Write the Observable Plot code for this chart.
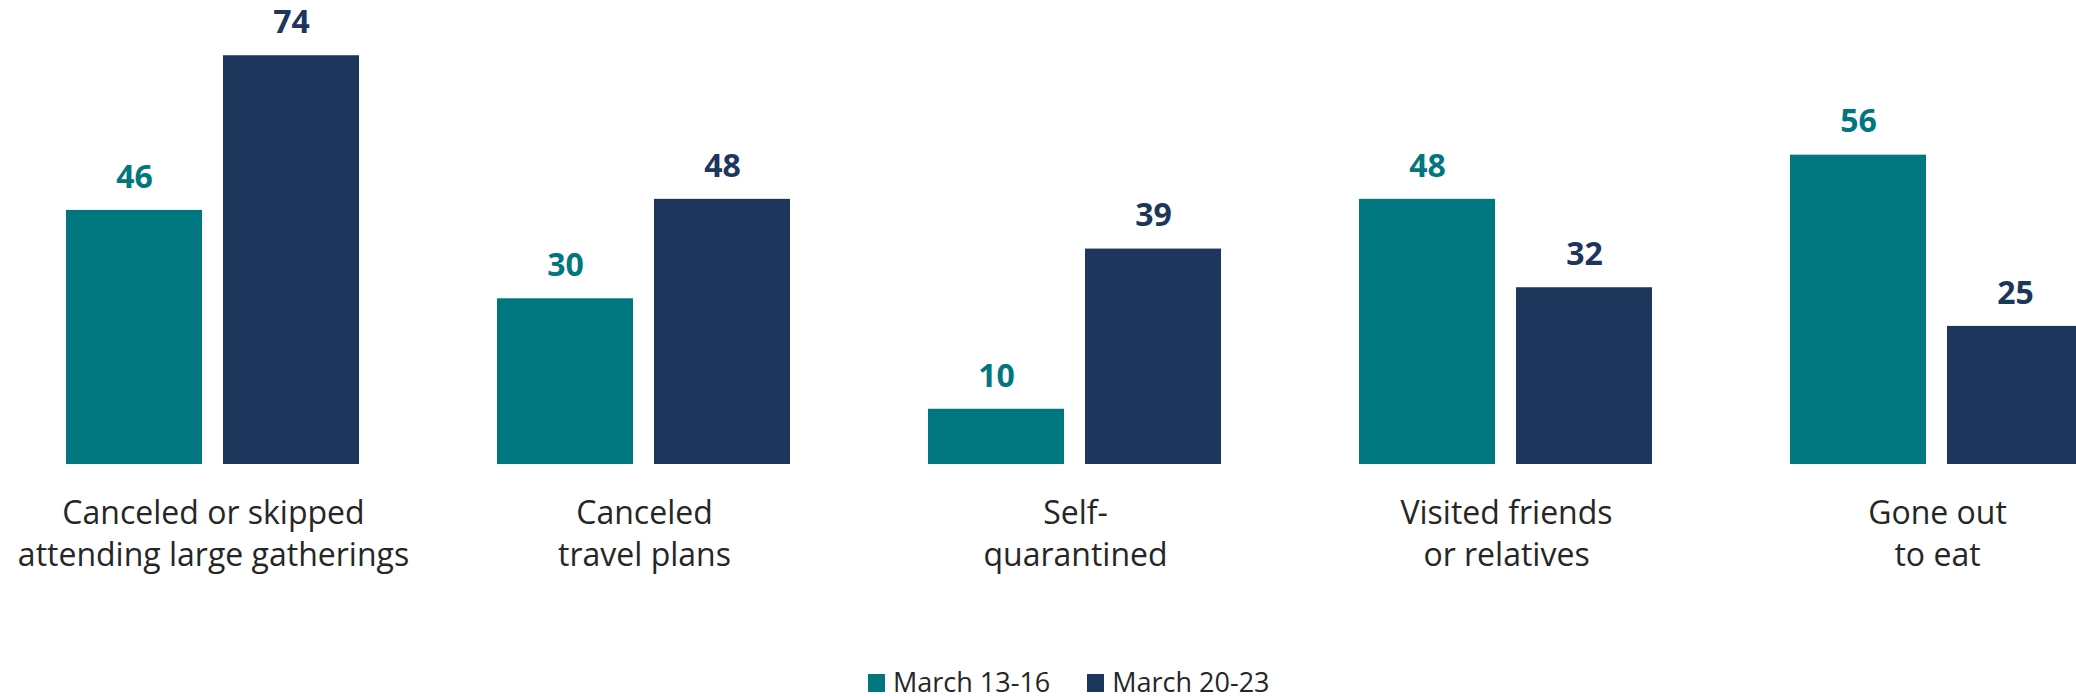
<!DOCTYPE html>
<html>
<head>
<meta charset="utf-8">
<script src="https://cdn.jsdelivr.net/npm/d3@7"></script>
<script src="https://cdn.jsdelivr.net/npm/@observablehq/plot@0.6"></script>
<style>
  html, body { margin: 0; padding: 0; background: #fff; overflow: hidden; width: 2076px; height: 696px; }
  #chart { position: absolute; left: 0; top: 0; width: 2076px; overflow: hidden; }
  #chart svg { display: block; max-width: none !important; }
  #legend { position: absolute; left: 868px; top: 668px; display: flex; align-items: center; line-height: 27px; height: 27px;
            font-family: "Open Sans", sans-serif; font-size: 27px; color: #262626; white-space: nowrap; }
  .item { display: flex; align-items: center; height: 27px; }
  .sw { width: 17px; height: 18px; margin-right: 8px; margin-top: 3px; }
</style>
</head>
<body>
<div id="chart"></div>
<div id="legend"></div>
<script>
const categories = [
  "Canceled or skipped attending large gatherings",
  "Canceled travel plans",
  "Self-quarantined",
  "Visited friends or relatives",
  "Gone out to eat"
];
const categoryLabels = [
  "Canceled or skipped\nattending large gatherings",
  "Canceled\ntravel plans",
  "Self-\nquarantined",
  "Visited friends\nor relatives",
  "Gone out\nto eat"
];
const periods = ["March 13-16", "March 20-23"];
const march13_16 = [46, 30, 10, 48, 56];
const march20_23 = [74, 48, 39, 32, 25];
const colors = ["#00767e", "#1c365c"];

const rows = categories.flatMap((c, i) => [
  {category: c, period: periods[0], value: march13_16[i]},
  {category: c, period: periods[1], value: march20_23[i]}
]);

const chart = Plot.plot({
  width: 2150,
  height: 620,
  marginTop: 0,
  marginBottom: 156,
  marginLeft: 0,
  marginRight: 0,
  style: {fontFamily: "'Open Sans', sans-serif", background: "transparent", maxWidth: "none"},
  fx: {domain: categories, paddingInner: 0.3175, paddingOuter: 0.152, axis: null, label: null},
  x: {domain: periods, paddingInner: 0.1316, paddingOuter: 0, axis: null, label: null},
  y: {domain: [0, 84], axis: null, label: null},
  color: {domain: periods, range: colors},
  marks: [
    Plot.barY(rows, {fx: "category", x: "period", y: "value", fill: "period"}),
    Plot.text(rows, {fx: "category", x: "period", y: "value", text: d => String(d.value),
      fill: "period", dy: -33, fontSize: 32, fontWeight: 700}),
    Plot.text(categories, {fx: d => d, frameAnchor: "bottom", text: (d, i) => categoryLabels[i],
      lineAnchor: "top", dy: 29, fontSize: 32, lineHeight: 1.33, fill: "#262626"})
  ]
});
chart.style.maxWidth = "none";
document.getElementById("chart").appendChild(chart);

const legend = document.getElementById("legend");
periods.forEach((p, i) => {
  const item = document.createElement("div");
  item.className = "item";
  if (i > 0) item.style.marginLeft = "37px";
  const sw = document.createElement("div");
  sw.className = "sw";
  sw.style.background = colors[i];
  const t = document.createElement("span");
  t.textContent = p;
  item.appendChild(sw);
  item.appendChild(t);
  legend.appendChild(item);
});
</script>
</body>
</html>
